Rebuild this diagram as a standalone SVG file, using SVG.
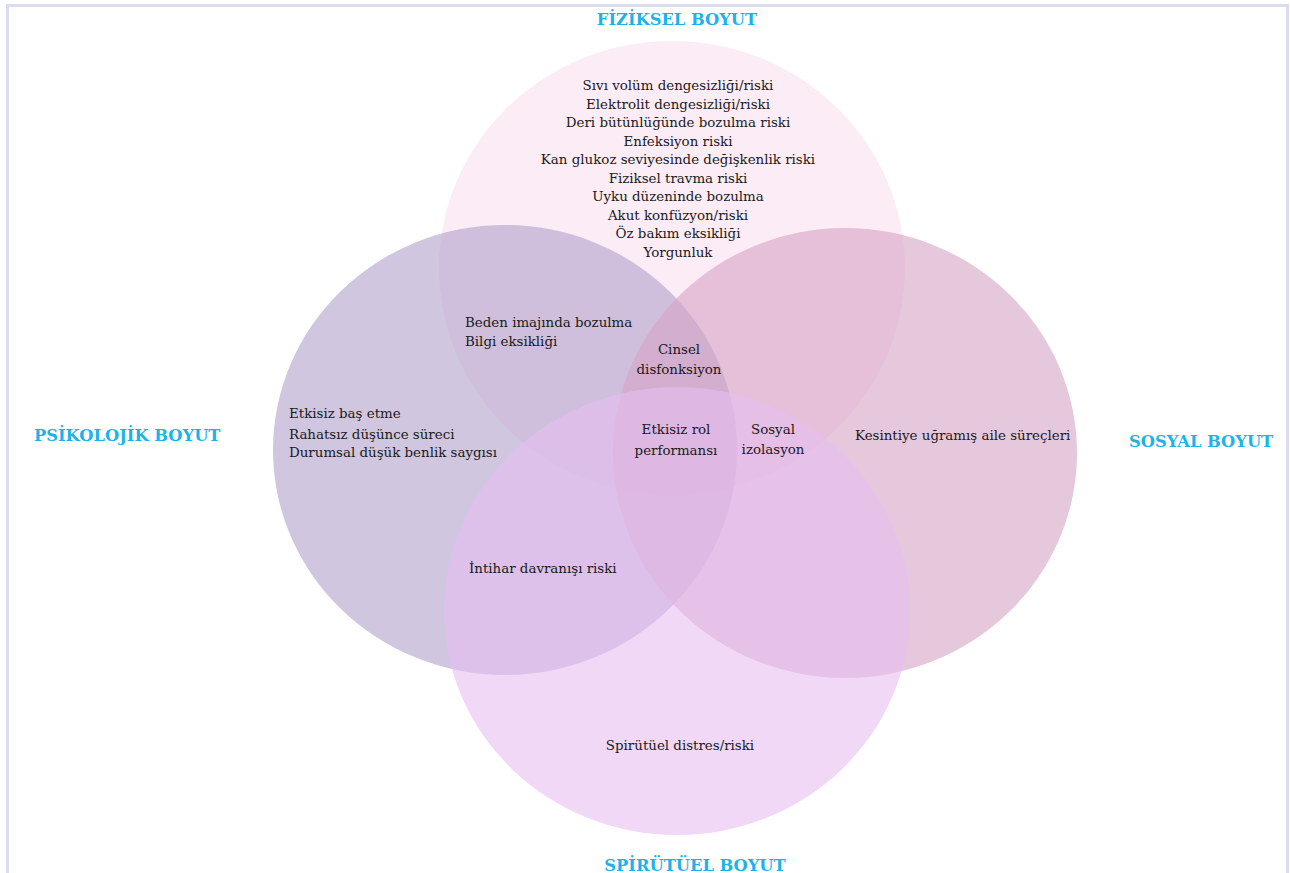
<svg xmlns="http://www.w3.org/2000/svg" width="1290" height="873" viewBox="0 0 1290 873">
<style>
.t{font-family:"DejaVu Serif",serif;font-size:13.4px;fill:#1a1a1a}
.c{text-anchor:middle}
.h{font-family:"DejaVu Serif",serif;font-size:16.3px;font-weight:bold;fill:#1eb2ea}
.circ{fill-opacity:0.6}
</style>
<rect x="0" y="0" width="1290" height="873" fill="#ffffff"/>
<path d="M7.5 873 V5.5 H1287.5 V873" fill="none" stroke="#dcdcef" stroke-width="3"/>
<g id="fiziksel"><ellipse class="circ" cx="672" cy="268" rx="233" ry="227" fill="#fadff0"/></g>
<g id="psikolojik"><ellipse class="circ" cx="505" cy="450" rx="232" ry="225" fill="#b1a0cb"/></g>
<g id="sosyal"><ellipse class="circ" cx="845" cy="453" rx="232" ry="225" fill="#d5a3c5"/></g>
<g id="spirituel"><ellipse class="circ" cx="677" cy="611" rx="233" ry="224" fill="#e6bef0"/></g>
<g id="connectors"></g>
<g id="labels">
<text class="h c" x="677" y="25">FİZİKSEL BOYUT</text>
<text class="h" x="34" y="441">PSİKOLOJİK BOYUT</text>
<text class="h" x="1129" y="447">SOSYAL BOYUT</text>
<text class="h c" x="695" y="871">SPİRÜTÜEL BOYUT</text>
</g>
<g id="fiziksel-text" class="t c">
<text x="678" y="90">Sıvı volüm dengesizliği/riski</text>
<text x="678" y="108.5">Elektrolit dengesizliği/riski</text>
<text x="678" y="127">Deri bütünlüğünde bozulma riski</text>
<text x="678" y="145.5">Enfeksiyon riski</text>
<text x="678" y="164">Kan glukoz seviyesinde değişkenlik riski</text>
<text x="678" y="182.5">Fiziksel travma riski</text>
<text x="678" y="201">Uyku düzeninde bozulma</text>
<text x="678" y="219.5">Akut konfüzyon/riski</text>
<text x="678" y="238">Öz bakım eksikliği</text>
<text x="678" y="256.5">Yorgunluk</text>
</g>
<g id="fiz-psi" class="t">
<text x="465" y="327">Beden imajında bozulma</text>
<text x="465" y="346">Bilgi eksikliği</text>
</g>
<g id="fiz-psi-sos" class="t c">
<text x="679" y="354">Cinsel</text>
<text x="679" y="374">disfonksiyon</text>
</g>
<g id="center" class="t c">
<text x="676" y="434">Etkisiz rol</text>
<text x="676" y="455">performansı</text>
</g>
<g id="sos-spi" class="t c">
<text x="773" y="434">Sosyal</text>
<text x="773" y="454">izolasyon</text>
</g>
<g id="psi-text" class="t">
<text x="289" y="418">Etkisiz baş etme</text>
<text x="289" y="439">Rahatsız düşünce süreci</text>
<text x="289" y="457">Durumsal düşük benlik saygısı</text>
</g>
<g id="sos-text" class="t">
<text x="855" y="440">Kesintiye uğramış aile süreçleri</text>
</g>
<g id="psi-spi" class="t">
<text x="469" y="573">İntihar davranışı riski</text>
</g>
<g id="spi-text" class="t c">
<text x="680" y="750">Spirütüel distres/riski</text>
</g>
</svg>
